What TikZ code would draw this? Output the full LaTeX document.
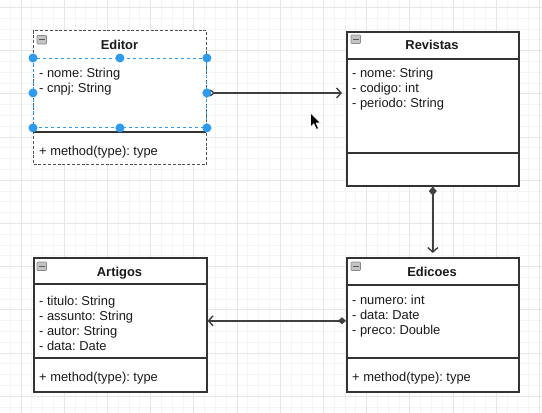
\documentclass[tikz,border=0pt]{standalone}
\usepackage{fontspec}
\setmainfont{Liberation Sans}
\usetikzlibrary{arrows.meta,shapes.geometric}
\frenchspacing
\definecolor{gmajor}{HTML}{E6E6E6}
\definecolor{gminor}{HTML}{F4F4F4}
\definecolor{bord}{HTML}{333333}
\definecolor{txt}{HTML}{1A1A1A}
\definecolor{selblue}{HTML}{2F9BEF}
\definecolor{conn}{HTML}{404040}
\definecolor{iconfill}{HTML}{C4C4C4}
\definecolor{iconline}{HTML}{8A8A8A}
\begin{document}
\begin{tikzpicture}[x=1pt,y=-1pt,
  classbox/.style={draw=bord, line width=1.6pt, fill=white, rectangle, anchor=north west, inner sep=0pt},
  titletext/.style={font=\fontsize{12.9}{15}\selectfont\bfseries\frenchspacing, text=txt, inner sep=0pt, anchor=base},
  attrtext/.style={font=\fontsize{12.9}{15}\selectfont\frenchspacing, text=txt, inner sep=0pt, anchor=base west},
  sepline/.style={draw=bord, line width=1.6pt},
  handle/.style={circle, fill=selblue, inner sep=0pt, minimum size=9pt},
  conline/.style={draw=conn, line width=1.5pt},
  colicon/.style={draw=iconline, fill=iconfill, rounded corners=0.8pt, line width=0.6pt},
  iconminus/.style={draw=bord!80, line width=0.9pt}
]
\useasboundingbox (0,0) rectangle (542,413);
\fill[white] (0,0) rectangle (542,413);
% grid
\begin{scope}
\clip (0,0) rectangle (542,413);
\foreach \j in {-1,...,49} \draw[gminor, line width=0.8pt] ({21+10.8*\j},0) -- ({21+10.8*\j},413);
\foreach \j in {0,...,37} \draw[gminor, line width=0.8pt] (0,{7.4+10.8*\j}) -- (542,{7.4+10.8*\j});
\foreach \k in {0,...,12} \draw[gmajor, line width=1pt] ({21+43.2*\k},0) -- ({21+43.2*\k},413);
\foreach \k in {0,...,9} \draw[gmajor, line width=1pt] (0,{7.4+43.2*\k}) -- (542,{7.4+43.2*\k});
\end{scope}

% Editor
\node[classbox, draw=bord!85, line width=1.3pt, dash pattern=on 3pt off 1.8pt, minimum width=173pt, minimum height=134pt] (editor) at (33,30) {};
\draw[sepline] (33,132) -- (206,132);
\draw[colicon] (37,35.5) rectangle (46.5,44);
\draw[iconminus] (39,39.8) -- (44.5,39.8);
\node[titletext] (editorT) at (119.5,49.5) {Editor};
\node[attrtext] (editorA1) at (39,77.5) {- nome: String};
\node[attrtext] (editorA2) at (39,92.5) {- cnpj: String};
\node[attrtext] (editorM1) at (39,155.5) {+ method(type): type};
\node[draw=selblue, dashed, line width=0.9pt, rectangle, anchor=north west, inner sep=0pt, minimum width=173pt, minimum height=69pt] (editorAttr) at (33,58) {};

% Revistas
\node[classbox, minimum width=172pt, minimum height=154pt] (revistas) at (346,31) {};
\draw[sepline] (346,59) -- (518,59);
\draw[sepline] (346,153) -- (518,153);
\draw[colicon] (351,35) rectangle (360.5,43.5);
\draw[iconminus] (353,39.3) -- (358.5,39.3);
\node[titletext] (revistasT) at (432,49.5) {Revistas};
\node[attrtext] (revistasA1) at (352,77.5) {- nome: String};
\node[attrtext] (revistasA2) at (352,92.5) {- codigo: int};
\node[attrtext] (revistasA3) at (352,107.5) {- periodo: String};

% Artigos
\node[classbox, minimum width=173pt, minimum height=134pt] (artigos) at (33,257) {};
\draw[sepline] (33,284) -- (206,284);
\draw[sepline] (33,358) -- (206,358);
\draw[colicon] (37,262) rectangle (46.5,270.5);
\draw[iconminus] (39,266.3) -- (44.5,266.3);
\node[titletext] (artigosT) at (119.5,276.5) {Artigos};
\node[attrtext] (artigosA1) at (39,305.5) {- titulo: String};
\node[attrtext] (artigosA2) at (39,320.5) {- assunto: String};
\node[attrtext] (artigosA3) at (39,335.5) {- autor: String};
\node[attrtext] (artigosA4) at (39,350.5) {- data: Date};
\node[attrtext] (artigosM1) at (39,381.5) {+ method(type): type};

% Edicoes
\node[classbox, minimum width=172pt, minimum height=134pt] (edicoes) at (346,257) {};
\draw[sepline] (346,285) -- (518,285);
\draw[sepline] (346,358) -- (518,358);
\draw[colicon] (351,262) rectangle (360.5,270.5);
\draw[iconminus] (353,266.3) -- (358.5,266.3);
\node[titletext] (edicoesT) at (432,276.5) {Edicoes};
\node[attrtext] (edicoesA1) at (352,304.5) {- numero: int};
\node[attrtext] (edicoesA2) at (352,319.5) {- data: Date};
\node[attrtext] (edicoesA3) at (352,334.5) {- preco: Double};
\node[attrtext] (edicoesM1) at (352,381.5) {+ method(type): type};

% connectors
\draw[conline, {Diamond[open,length=8pt,width=7pt,line width=1.3pt,fill=white]}-{Straight Barb[length=4.5pt,width=10pt,line width=1.4pt]}]
  (editorAttr.east) -- ([xshift=-4pt]editorAttr.east -| revistas.west);
\draw[conline, {Diamond[length=9pt,width=8pt]}-{Straight Barb[length=4.5pt,width=10pt,line width=1.4pt]}]
  (revistas.south) -- ([yshift=4pt]edicoes.north);
\draw[conline, {Diamond[length=8pt,width=7pt]}-{Straight Barb[length=4.5pt,width=10pt,line width=1.4pt]}]
  ([yshift=4pt]edicoes.west) -- ([yshift=4pt]artigos.east);

% selection handles
\node[handle] (h1) at (editorAttr.north west) {};
\node[handle] (h2) at (editorAttr.north) {};
\node[handle] (h3) at (editorAttr.north east) {};
\node[handle] (h4) at (editorAttr.west) {};
\node[handle] (h5) at (editorAttr.east) {};
\node[handle] (h6) at (editorAttr.south west) {};
\node[handle] (h7) at (editorAttr.south) {};
\node[handle] (h8) at (editorAttr.south east) {};

% mouse cursor
\coordinate (cursor) at (310.5,113);
\filldraw[fill=black, draw=white, line width=0.7pt, line join=round]
  (cursor) -- ++(0,14) -- ++(3.3,-3.2) -- ++(2.6,5.6) -- ++(2.2,-1) -- ++(-2.5,-5.4) -- ++(4.6,0) -- cycle;
\end{tikzpicture}
\end{document}
